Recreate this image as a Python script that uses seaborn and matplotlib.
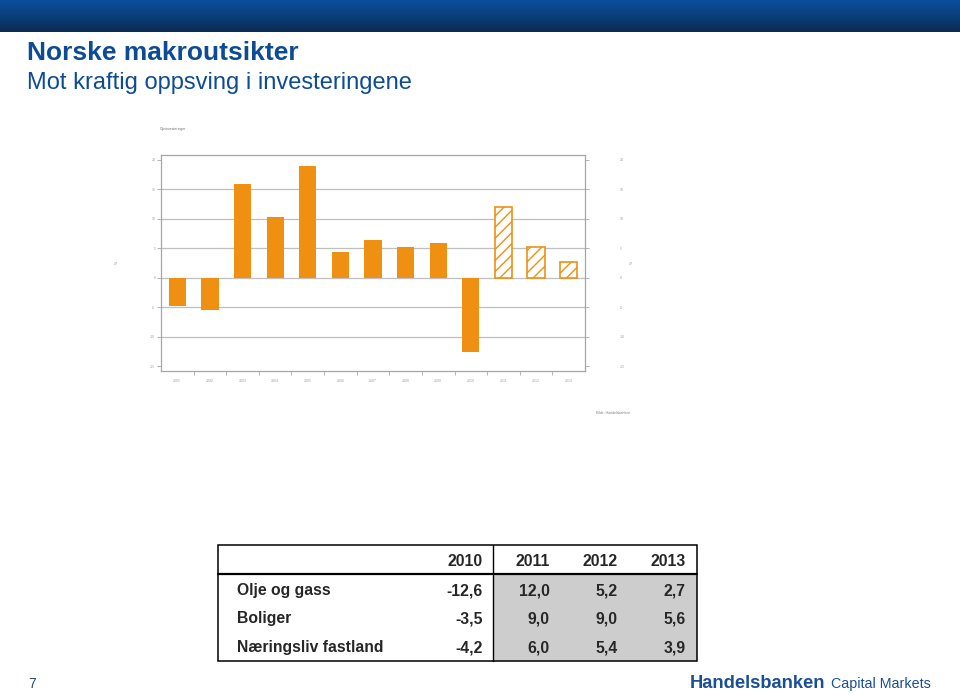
import numpy as np
import matplotlib
matplotlib.use("Agg")
import matplotlib.pyplot as plt
from matplotlib.patches import Rectangle
from matplotlib.colors import LinearSegmentedColormap
import seaborn as sns

# ---------------- data ----------------
years = ["2001", "2002", "2003", "2004", "2005", "2006", "2007",
         "2008", "2009", "2010", "2011", "2012", "2013"]
oil_growth = [-4.8, -5.5, 15.9, 10.3, 18.9, 4.3, 6.4, 5.2, 5.9, -12.6, 12.0, 5.2, 2.7]
forecast_years = ["2011", "2012", "2013"]
y_ticks = [-15, -10, -5, 0, 5, 10, 15, 20]
grid_levels = [-10, -5, 0, 5, 10, 15]

table_years = ["2010", "2011", "2012", "2013"]
row_names = ["Olje og gass", "Boliger", "Næringsliv fastland"]
olje_og_gass = [-12.6, 12.0, 5.2, 2.7]
boliger = [-3.5, 9.0, 9.0, 5.6]
naeringsliv = [-4.2, 6.0, 5.4, 3.9]
table_values = [olje_og_gass, boliger, naeringsliv]

title = "Norske makroutsikter"
subtitle = "Mot kraftig oppsving i investeringene"
chart_title = "Oljeinvesteringer"
source_text = "Kilde: Handelsbanken"
page_no = "7"

# ---------------- style ----------------
sns.set_style("white")
plt.rcParams["font.family"] = ["Liberation Sans", "DejaVu Sans"]
plt.rcParams["hatch.linewidth"] = 1.0
plt.rcParams["hatch.color"] = "#EF9012"

ORANGE = "#EF9012"
BLUE = "#0D4C94"
W, H = 960, 694
fig = plt.figure(figsize=(9.6, 6.94), dpi=100)

# page overlay in pixel coordinates
bg = fig.add_axes([0, 0, 1, 1], zorder=0)
bg.set_xlim(0, W)
bg.set_ylim(H, 0)
bg.axis("off")

# top gradient band
cmap = LinearSegmentedColormap.from_list("band", ["#0A4F9C", "#0B3F7A", "#0A2B52"])
grad = np.linspace(0, 1, 64).reshape(-1, 1)
bg.imshow(grad, cmap=cmap, aspect="auto", extent=(0, W, 32, 0), zorder=1)

bg.text(27, 53, title, fontsize=19, fontweight="bold", color=BLUE, va="center", ha="left")
bg.text(27, 83, subtitle, fontsize=17, color=BLUE, va="center", ha="left")

# chart
ax = fig.add_axes([161 / W, 1 - 370.7 / H, 424 / W, (370.7 - 155) / H], zorder=2)
sns.barplot(x=years, y=oil_growth, color=ORANGE, saturation=1, width=0.53,
            linewidth=0, ax=ax, zorder=3)
for patch, yr in zip(ax.patches, years):
    if yr in forecast_years:
        patch.set_facecolor("white")
        patch.set_edgecolor(ORANGE)
        patch.set_hatch("///")
        patch.set_linewidth(1.2)

ax.set_xlim(-0.5, len(years) - 0.5)
ax.set_ylim(-15.76, 20.8)
for g in grid_levels:
    ax.axhline(g, color="#BFBFBF", lw=0.9, zorder=1)
for s in ax.spines.values():
    s.set_color("#A6A6A6")
    s.set_linewidth(0.9)
ax.set_xlabel("")
ax.set_ylabel("")
ax.set_yticks(y_ticks)
ax.set_yticklabels([str(v) for v in y_ticks])
ax.tick_params(axis="y", left=True, length=3, width=0.6, color="#A6A6A6",
               labelsize=2.5, labelcolor="#A0A0A0", pad=1)
ax.set_xticks(range(len(years)))
ax.set_xticklabels(years)
ax.set_xticks(np.arange(len(years) - 1) + 0.5, minor=True)
ax.tick_params(axis="x", which="major", length=0, labelsize=2.5,
               labelcolor="#A0A0A0", pad=6)
ax.tick_params(axis="x", which="minor", bottom=True, length=3, width=0.6, color="#A6A6A6")

ax2 = ax.twinx()
ax2.set_ylim(ax.get_ylim())
ax2.set_yticks(y_ticks)
ax2.set_yticklabels([str(v) for v in y_ticks])
ax2.tick_params(axis="y", right=True, length=3, width=0.6, color="#A6A6A6",
                labelsize=2.5, labelcolor="#A0A0A0", pad=22)
for s in ax2.spines.values():
    s.set_visible(False)

# tiny chart annotations
fig.text(160 / W, 1 - 129 / H, chart_title, fontsize=2.5, color="#707070", va="center")
fig.text(596 / W, 1 - 413 / H, source_text, fontsize=2.5, color="#808080", va="center")
fig.text(117 / W, 1 - 262 / H, "%", fontsize=2.5, color="#808080", rotation=90,
         va="center", ha="center")
fig.text(632 / W, 1 - 262 / H, "%", fontsize=2.5, color="#808080", rotation=90,
         va="center", ha="center")

# ---------------- table ----------------
tx0, tx1, ty0, ty1 = 217.5, 696.5, 545, 660.5
hdr_y = 574
split_x = 492.7
bg.add_patch(Rectangle((split_x, hdr_y), tx1 - split_x, ty1 - hdr_y,
                       facecolor="#CDCDCD", edgecolor="none", zorder=2))
bg.add_patch(Rectangle((tx0, ty0), tx1 - tx0, ty1 - ty0, fill=False,
                       edgecolor="black", lw=1.1, zorder=3))
bg.plot([tx0, tx1], [hdr_y, hdr_y], color="black", lw=1.6, zorder=3)
bg.plot([split_x, split_x], [ty0, ty1], color="black", lw=1.0, zorder=3)

col_right = [482.7, 550, 618, 685.7]
row_base = [595.0, 623.5, 652.3]
for x, yr in zip(col_right, table_years):
    bg.text(x, 565.5, yr, fontsize=11.3, fontweight="bold", ha="right", va="baseline", zorder=4)
for y, name, vals in zip(row_base, row_names, table_values):
    bg.text(236.7, y, name, fontsize=11.3, fontweight="bold", ha="left", va="baseline", zorder=4)
    for x, v in zip(col_right, vals):
        bg.text(x, y, f"{v:.1f}".replace(".", ","), fontsize=11.3, fontweight="bold",
                ha="right", va="baseline", zorder=4)

# footer
bg.text(32, 684, page_no, fontsize=10, color="#2C4770", ha="center", va="center")
bg.text(690, 683, "Handelsbanken", fontsize=13.2, fontweight="bold",
        color="#1A4F95", ha="left", va="center")
bg.text(831, 684, "Capital Markets", fontsize=10.3, color="#1A4F95", ha="left", va="center")

fig.savefig("out.png", dpi=100)
